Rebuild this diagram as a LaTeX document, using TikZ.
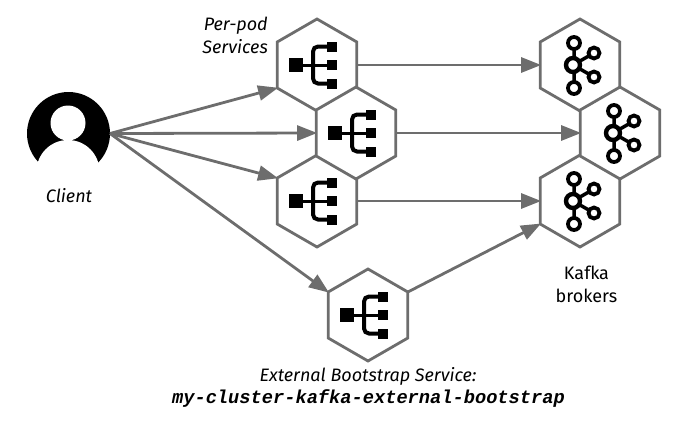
\documentclass[tikz,border=0pt]{standalone}
\usepackage{fontspec}
\setmainfont{Fira Sans}
\setmonofont{Liberation Mono}
\usetikzlibrary{shapes.geometric,arrows.meta}
\definecolor{edgegray}{HTML}{6D6D6D}
\tikzset{
  x=1pt,y=-1pt,
  hexa/.style={regular polygon,regular polygon sides=6,shape border rotate=30,minimum size=92pt,inner sep=0pt,outer sep=0pt,draw=edgegray,line width=2.8pt,fill=white,line join=miter},
  conn/.style={draw=edgegray,line width=2.8pt,-{Triangle[length=20pt,width=15pt]},shorten >=-1pt},
  lab/.style={font=\fontsize{18}{23}\selectfont\itshape,inner sep=0pt,align=center},
  plainlab/.style={font=\fontsize{18}{23}\selectfont,inner sep=0pt,align=center},
  code/.style={font=\fontsize{18.7}{23}\selectfont\ttfamily\bfseries\itshape,inner sep=0pt},
  pics/svc/.style={code={
    \fill[black] (-28,-7) rectangle (-14,7);
    \draw[black,line width=3pt] (-14,0) -- (12,0);
    \draw[black,line width=4pt,rounded corners=5pt] (12,-18.5) -- (-4,-18.5) -- (-4,18.5) -- (12,18.5);
    \fill[black] (9.5,-23.5) rectangle (19.5,-13.5);
    \fill[black] (9.5,-5) rectangle (19.5,5);
    \fill[black] (9.5,13.5) rectangle (19.5,23.5);
  }},
  pics/kafka/.style={code={
    \draw[black,line width=3.5pt] (-6,-16) -- (-6,17) (-7,0) -- (14,-12) (-7,0) -- (14,12);
    \draw[black,line width=4.4pt,fill=white] (-7,0) circle (7);
    \draw[black,line width=3.8pt,fill=white] (-6,-22) circle (6);
    \draw[black,line width=3.8pt,fill=white] (-6,23) circle (6);
    \draw[black,line width=3.8pt,fill=white] (14,-12) circle (5.5);
    \draw[black,line width=3.8pt,fill=white] (14,12) circle (5.5);
  }}
}
\begin{document}
\begin{tikzpicture}
\useasboundingbox (0,0) rectangle (678,424);
% client
\node[circle,fill=black,minimum size=83pt,inner sep=0pt,outer sep=0pt] (client) at (68.5,133.5) {};
\fill[white] (68,171.5) circle (31.5);
\fill[white] (68,123) circle (17.5);
\node[lab] (clientlab) at (69,196) {Client};
% services
\node[hexa] (s1) at (317,65) {};
\node[hexa] (s3) at (317,201) {};
\node[hexa] (s2) at (356,133) {};
\node[hexa] (boot) at (368,315) {};
\pic at (s1) {svc};
\pic at (s2) {svc};
\pic at (s3) {svc};
\pic at (boot) {svc};
% brokers
\node[hexa] (b1) at (580,65) {};
\node[hexa] (b3) at (580,201) {};
\node[hexa] (b2) at (620,133) {};
\pic at (b1) {kafka};
\pic at (b2) {kafka};
\pic at (b3) {kafka};
% connectors
\draw[conn] (client.east) -- (s1.210);
\draw[conn] (client.east) -- (s2.west);
\draw[conn] (client.east) -- (s3.150);
\draw[conn] (client.east) -- (boot.150);
\draw[conn] (s1.east) -- (b1.west);
\draw[conn] (s2.east) -- (b2.west);
\draw[conn] (s3.east) -- (b3.west);
\draw[conn] (boot.30) -- (b3.210);
% labels
\node[lab,align=right,anchor=east] (pod) at (268,35.5) {Per-pod\\Services};
\node[plainlab] (kafkalab) at (586.5,284.5) {Kafka\\brokers};
\node[lab] (extlab) at (368,376) {External Bootstrap Service:};
\node[code] (codelab) at (368.5,399) {my-cluster-kafka-external-bootstrap};
\end{tikzpicture}
\end{document}
